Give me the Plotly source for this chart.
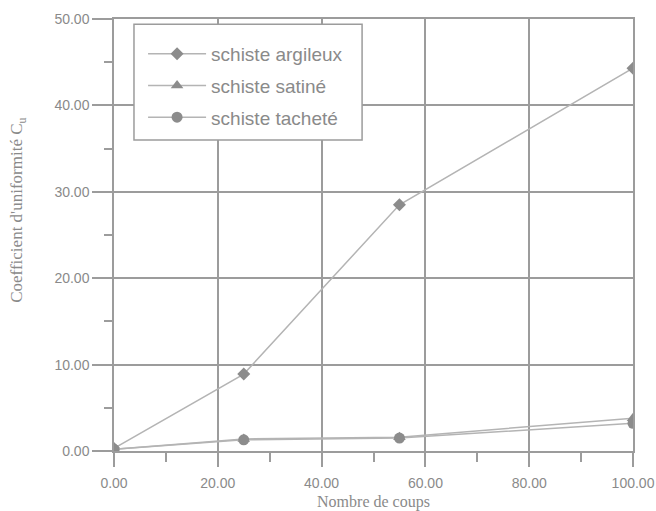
import plotly.graph_objects as go

coups = [0, 25, 55, 100]
argileux = [0.3, 8.9, 28.5, 44.3]
satine = [0.2, 1.4, 1.6, 3.8]
tachete = [0.2, 1.3, 1.5, 3.2]

series_names = ["schiste argileux", "schiste satiné", "schiste tacheté"]
series_values = [argileux, satine, tachete]
symbols = ["diamond", "triangle-up", "circle"]
marker_sizes = [10, 11, 11]

x_title = "Nombre de coups"
y_title = "Coefficient d'uniformité C<sub>u</sub>"

line_col = "#b4b4b4"
mark_col = "#8c8c8c"
grid_col = "#9c9c9c"
text_col = "#8a8a8a"

fig = go.Figure()
for i, (name, vals, sym, ms) in enumerate(zip(series_names, series_values, symbols, marker_sizes)):
    fig.add_trace(go.Scatter(
        x=coups, y=vals, name=name, mode="lines+markers",
        legendgroup=str(i),
        line=dict(color=line_col, width=1.5),
        marker=dict(symbol=sym, size=ms, color=mark_col),
    ))

axis_common = dict(
    showgrid=True, gridcolor=grid_col, gridwidth=1.5,
    showline=True, linecolor=grid_col, linewidth=1.5, mirror=True,
    zeroline=False, ticks="outside", tickcolor=grid_col, tickwidth=1.5,
    tickformat=".2f", automargin=False,
    tickfont=dict(family="Liberation Sans, Arial", size=14, color=text_col),
)

fig.update_xaxes(
    **axis_common, range=[0, 100], dtick=20, tick0=0, ticklen=14,
    ticklabelstandoff=4,
    minor=dict(ticks="outside", ticklen=9, dtick=10, tickcolor=grid_col, showgrid=False),
    title=dict(text=x_title, standoff=6,
               font=dict(family="Liberation Serif, Times New Roman", size=16, color=text_col)),
)
fig.update_yaxes(
    **axis_common, range=[0, 50], dtick=10, tick0=0, ticklen=20,
    minor=dict(ticks="outside", ticklen=8, dtick=5, tickcolor=grid_col, showgrid=False),
)

# legend frame
fig.add_shape(type="rect", xref="paper", yref="paper",
              x0=0.0385, x1=0.478, y0=0.72, y1=0.988,
              line=dict(color=grid_col, width=1.5), fillcolor="white", layer="above")

fig.add_annotation(
    text=y_title, textangle=-90, xref="paper", yref="paper",
    x=0, y=0.556, xanchor="center", yanchor="middle", xshift=-96, showarrow=False,
    font=dict(family="Liberation Serif, Times New Roman", size=17, color=text_col),
)

fig.update_layout(
    width=656, height=511,
    margin=dict(l=114, r=23, t=19, b=60),
    paper_bgcolor="white", plot_bgcolor="white",
    showlegend=True,
    legend=dict(
        x=0.056, y=0.963, xanchor="left", yanchor="top",
        bgcolor="rgba(0,0,0,0)", borderwidth=0,
        font=dict(family="Liberation Sans, Arial", size=19, color=text_col),
        itemwidth=58, tracegroupgap=4,
    ),
)

fig.write_html("out.html")
